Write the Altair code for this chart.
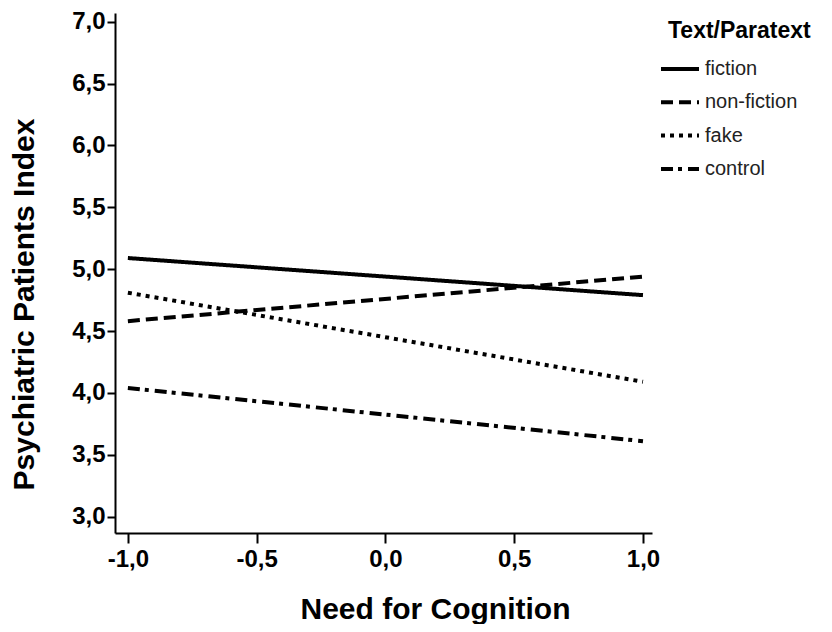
import altair as alt
import pandas as pd

series = ["fiction", "non-fiction", "fake", "control"]
x_points = [-1.0, 1.0]
y_start = [5.09, 4.58, 4.81, 4.04]
y_end = [4.79, 4.94, 4.09, 3.61]
x_ticks = [-1.0, -0.5, 0.0, 0.5, 1.0]
y_ticks = [3.0, 3.5, 4.0, 4.5, 5.0, 5.5, 6.0, 6.5, 7.0]
legend_title = ["Text/Paratext"]

rows = []
for s, a, b in zip(series, y_start, y_end):
    rows.append({"group": s, "x": x_points[0], "y": a})
    rows.append({"group": s, "x": x_points[1], "y": b})
df = pd.DataFrame(rows)

dashes = [[1, 0], [12, 6], [4, 5], [12, 5, 4, 6]]
label_expr = "(datum.value < 0 ? '-' : '') + replace(format(abs(datum.value), '.1f'), '.', ',')"
FONT = "Liberation Sans"

lines = alt.Chart(df).mark_line(color="black", strokeWidth=4, strokeCap="butt").encode(
    x=alt.X("x:Q",
            scale=alt.Scale(domain=[-1.05, 1.035], nice=False, zero=False),
            axis=alt.Axis(values=x_ticks, title="Need for Cognition", labelExpr=label_expr,
                          titleX=320, titleY=85, titleBaseline="alphabetic", titleAnchor="start",
                          titleAlign="center", labelPadding=4)),
    y=alt.Y("y:Q",
            scale=alt.Scale(domain=[2.868, 7.07], nice=False, zero=False),
            axis=alt.Axis(values=y_ticks, title="Psychiatric Patients Index", labelExpr=label_expr,
                          titleX=-91, titleY=291, titleBaseline="middle", titleAlign="center",
                          titleAngle=270, labelPadding=2)),
    strokeDash=alt.StrokeDash("group:N",
                              scale=alt.Scale(domain=series, range=dashes),
                              sort=series,
                              legend=alt.Legend(title=None, orient="none", legendX=544, legendY=35,
                                                symbolType="stroke", symbolSize=1444,
                                                symbolStrokeWidth=4, symbolStrokeColor="black",
                                                labelFontSize=20, labelFont=FONT, labelColor="#222",
                                                labelOffset=4, rowPadding=2.3, padding=0)),
    detail="group:N",
)

title_text = alt.Chart(pd.DataFrame({"t": legend_title})).mark_text(
    align="left", baseline="alphabetic", font=FONT, fontSize=23, fontWeight="bold", color="black"
).encode(text="t:N", x=alt.value(553), y=alt.value(25))

chart = alt.layer(lines, title_text).properties(
    width=537,
    height=520,
    autosize=alt.AutoSizeParams(type="none"),
    padding={"left": 107, "top": 5, "right": 172, "bottom": 91},
).configure_view(stroke=None).configure_axis(
    grid=False,
    domainColor="black", domainWidth=2,
    tickColor="black", tickWidth=2,
    labelFont=FONT, labelFontSize=24, labelFontWeight="bold", labelColor="black",
    titleFont=FONT, titleFontSize=30, titleFontWeight="bold", titleColor="black",
).configure_axisX(tickSize=10).configure_axisY(tickSize=8)

chart.save("out.html", embed_options={"renderer": "svg", "actions": False})
